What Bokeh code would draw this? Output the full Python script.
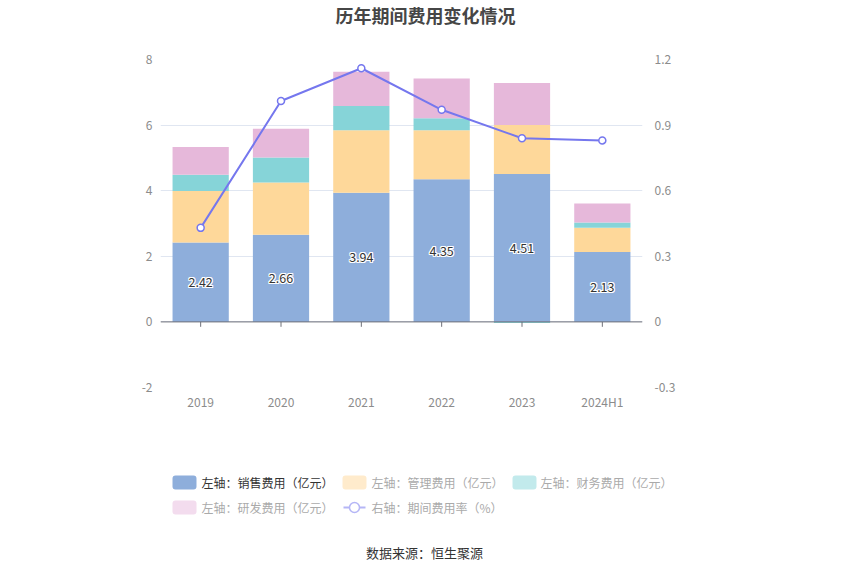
from bokeh.plotting import figure
from bokeh.models import (Range1d, LinearAxis, FixedTicker, CustomJSTickFormatter,
                          ColumnDataSource, Span)
from bokeh.layouts import column
from bokeh.embed import file_html
from bokeh.resources import INLINE
from bokeh.core.properties import value

# ---------------- data ----------------
years = ["2019", "2020", "2021", "2022", "2023", "2024H1"]
sales = [2.42, 2.66, 3.94, 4.35, 4.51, 2.13]      # 销售费用（亿元）
admin = [1.57, 1.59, 1.90, 1.49, 1.49, 0.74]      # 管理费用（亿元）
finance = [0.50, 0.76, 0.74, 0.37, -0.03, 0.16]   # 财务费用（亿元）
rnd = [0.84, 0.88, 1.05, 1.21, 1.28, 0.58]        # 研发费用（亿元）
rate = [0.43, 1.01, 1.16, 0.97, 0.84, 0.83]       # 期间费用率（%）
left_ticks = [-2, 0, 2, 4, 6, 8]
right_ticks = [-0.3, 0, 0.3, 0.6, 0.9, 1.2]
legend_labels = ["左轴：销售费用（亿元）", "左轴：管理费用（亿元）", "左轴：财务费用（亿元）",
                 "左轴：研发费用（亿元）", "右轴：期间费用率（%）"]
title_text = "历年期间费用变化情况"
source_text = "数据来源：恒生聚源"

# ---------------- style ----------------
FONT = "Noto Sans CJK SC"
colors = ["#8eaedb", "#fed89a", "#86d4d8", "#e6b8da"]
faded = ["#8eaedb", "#ffebcc", "#c2eaec", "#f3dcee"]
line_color = "#7577ee"
line_faded = "#b5b6f6"
tick_color = "#8c8c8c"

W = 834
H_TOP = 30
H_MAIN = 402
H_LEG = 136
TOP_BORDER = 59 - H_TOP


def blank(h):
    f = figure(width=W, height=h, x_range=Range1d(0, W), y_range=Range1d(h, 0),
               output_backend="svg", toolbar_location=None, min_border=0)
    f.axis.visible = False
    f.grid.visible = False
    f.outline_line_color = None
    f.frame_align = False
    return f


# ---------------- title ----------------
tp = blank(H_TOP)
tp.text(x=[425], y=[14], text=[title_text], text_align="center", text_baseline="middle",
        text_font=value(FONT), text_font_size="18px", text_font_style="bold",
        text_color="#464646")

# ---------------- main chart ----------------
p = figure(x_range=years, y_range=Range1d(-2, 8), width=W, height=H_MAIN,
           output_backend="svg", toolbar_location=None,
           min_border_left=160, min_border_right=W - 160 - 482, min_border_top=TOP_BORDER,
           min_border_bottom=H_MAIN - TOP_BORDER - 328)
p.frame_align = False
p.outline_line_color = None
p.xgrid.grid_line_color = None
p.ygrid.grid_line_color = "#e0e6f1"
p.ygrid.ticker = FixedTicker(ticks=left_ticks)

# stacked bars (positive and negative stacks kept apart)
series = [sales, admin, finance, rnd]
pos = [0.0] * len(years)
neg = [0.0] * len(years)
for s, c in zip(series, colors):
    bottoms, tops = [], []
    for i, v in enumerate(s):
        if v >= 0:
            bottoms.append(pos[i]); tops.append(pos[i] + v); pos[i] += v
        else:
            tops.append(neg[i]); bottoms.append(neg[i] + v); neg[i] += v
    src = ColumnDataSource(dict(x=years, bottom=bottoms, top=tops))
    p.vbar(x="x", bottom="bottom", top="top", width=0.7, source=src,
           fill_color=c, line_color=None)

# x axis line at zero with ticks
p.add_layout(Span(location=0, dimension="width", line_color="#6e7079", line_width=1))
p.segment(x0=years, y0=[0] * len(years), x1=years, y1=[-0.15] * len(years),
          line_color="#6e7079", line_width=1)

# labels on sales segments (dark text with white halo)
lab_src = ColumnDataSource(dict(x=years, y=[v / 2 for v in sales],
                                t=[f"{v:.2f}" for v in sales]))
for dx, dy in [(-1, 0), (1, 0), (0, -1), (0, 1), (-1, -1), (1, 1), (-1, 1), (1, -1)]:
    p.text(x="x", y="y", text="t", source=lab_src, x_offset=dx, y_offset=dy,
           text_align="center", text_baseline="middle", text_color="white",
           text_font=value(FONT), text_font_size="12.5px")
p.text(x="x", y="y", text="t", source=lab_src, text_align="center",
       text_baseline="middle", text_color="#333333", text_font=value(FONT),
       text_font_size="12.5px")

# rate line on right axis
p.extra_y_ranges = {"rate": Range1d(-0.3, 1.2)}
p.line(years, rate, y_range_name="rate", line_color=line_color, line_width=2)
p.scatter(years, rate, y_range_name="rate", size=7, fill_color="white",
          line_color=line_color, line_width=1.5)

# axes
p.yaxis.ticker = FixedTicker(ticks=left_ticks)
p.yaxis.formatter = CustomJSTickFormatter(code="return String(Math.round(tick));")
for ax in [p.yaxis[0], p.xaxis[0]]:
    ax.axis_line_color = None
    ax.major_tick_line_color = None
    ax.minor_tick_line_color = None
    ax.major_tick_out = 0
    ax.major_label_text_color = tick_color
    ax.major_label_text_font = FONT
    ax.major_label_text_font_size = "12px"
    ax.major_label_standoff = 8
p.xaxis[0].major_label_standoff = 5

rax = LinearAxis(y_range_name="rate", ticker=FixedTicker(ticks=right_ticks),
                 formatter=CustomJSTickFormatter(code="return tick.toFixed(1).replace(/\\.0$/, '').replace(/^-0$/, '0');"))
rax.axis_line_color = None
rax.major_tick_line_color = None
rax.minor_tick_line_color = None
rax.major_tick_out = 0
rax.major_label_text_color = tick_color
rax.major_label_text_font = FONT
rax.major_label_text_font_size = "12px"
rax.major_label_standoff = 12
p.add_layout(rax, "right")

# ---------------- legend + source ----------------
lg = blank(H_LEG)
sw_left = [172, 342, 512, 172]
sw_y = [50, 50, 50, 75]
txt_x = [201, 371, 540, 201, 371]
txt_y = [50, 50, 50, 75, 75]
txt_col = ["#333333", "#aaaaaa", "#aaaaaa", "#aaaaaa", "#aaaaaa"]

lg.quad(left=sw_left, right=[l + 24 for l in sw_left], top=[y - 7 for y in sw_y],
        bottom=[y + 7 for y in sw_y], fill_color=faded, line_color=None, border_radius=3)
lg.segment(x0=[343], y0=[75], x1=[365], y1=[75], line_color=line_faded, line_width=2)
lg.scatter(x=[354], y=[75], size=10, fill_color="white", line_color=line_faded, line_width=1.5)
lg.text(x=txt_x, y=txt_y, text=legend_labels, text_color=txt_col, text_align="left",
        text_baseline="middle", text_font=value(FONT), text_font_size="12px")
lg.text(x=[424], y=[120], text=[source_text], text_color="#333333", text_align="center",
        text_baseline="middle", text_font=value(FONT), text_font_size="13px")

layout = column(tp, p, lg, spacing=0)
open("out.html", "w").write(file_html(layout, INLINE))
